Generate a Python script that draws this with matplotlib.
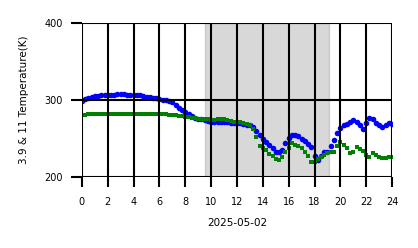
import matplotlib
matplotlib.use('Agg')
import matplotlib.pyplot as plt
import numpy as np

# hours of the day, one sample every 15 minutes
hours = np.arange(97) * 0.25

# 3.9 um brightness temperature (K)
bt_39 = [
    299, 302, 303, 304,
    305, 305, 306, 306,
    306, 307, 307, 308,
    308, 308, 307, 307,
    306, 306, 306, 305,
    304, 304, 303, 303,
    301, 300, 300, 299,
    297, 294, 290, 287,
    285, 282, 279, 277,
    276, 275, 274, 273,
    272, 272, 271, 271,
    271, 271, 270, 270,
    270, 270, 269, 268,
    267, 265, 260, 255,
    250, 246, 242, 238,
    233, 232, 235, 244,
    251, 254, 255, 253,
    250, 247, 243, 239,
    228, 222, 228, 232,
    233, 240, 248, 257,
    264, 267, 269, 271,
    274, 272, 268, 262,
    270, 277, 275, 270,
    267, 265, 268, 270,
    269,
]

# 11 um brightness temperature (K)
bt_11 = [
    280, 281, 282, 282,
    282, 282, 282, 282,
    282, 282, 282, 282,
    282, 282, 282, 282,
    282, 282, 282, 282,
    282, 282, 282, 282,
    282, 282, 282, 281,
    281, 280, 279, 279,
    278, 278, 277, 277,
    276, 276, 275, 275,
    274, 274, 275, 276,
    275, 274, 273, 272,
    271, 271, 270, 269,
    267, 262, 252, 241,
    238, 235, 230, 228,
    224, 222, 226, 232,
    238, 244, 242, 240,
    238, 233, 228, 219,
    220, 224, 226, 229,
    231, 232, 232, 240,
    245, 242, 238, 231,
    233, 239, 237, 234,
    229, 226, 231, 229,
    226, 225, 225, 226,
    226,
]

night_start, night_end = 9.5, 19.1
x_ticks = list(range(0, 25, 2))
y_ticks = [200, 300, 400]

fig = plt.figure(figsize=(4.18, 2.48), dpi=100)
ax = fig.add_axes([0.196, 0.286, 0.742, 0.621])

ax.axvspan(night_start, night_end, color='gray', alpha=0.3, zorder=0.5)
ax.scatter(hours, bt_39, s=16, marker='o', color='blue', linewidths=0, zorder=1)
ax.scatter(hours, bt_11, s=11, marker='s', color='green', linewidths=0, zorder=1)

ax.set_xlim(0, 24)
ax.set_ylim(200, 400)
ax.set_xticks(x_ticks)
ax.set_yticks(y_ticks)
ax.set_axisbelow(False)
ax.grid(True, color='black', linewidth=1.5)
for s in ax.spines.values():
    s.set_visible(False)
ax.tick_params(axis='both', length=8, width=1.5, labelsize=7)
ax.tick_params(axis='y', pad=6)
ax.tick_params(axis='x', length=7, pad=7)

ax.set_xlabel('2025-05-02', fontsize=7.5, labelpad=8)
ax.set_ylabel('3.9 & 11 Temperature(K)', fontsize=7.5, labelpad=11)

plt.savefig('out.png', dpi=100)
plt.close(fig)
